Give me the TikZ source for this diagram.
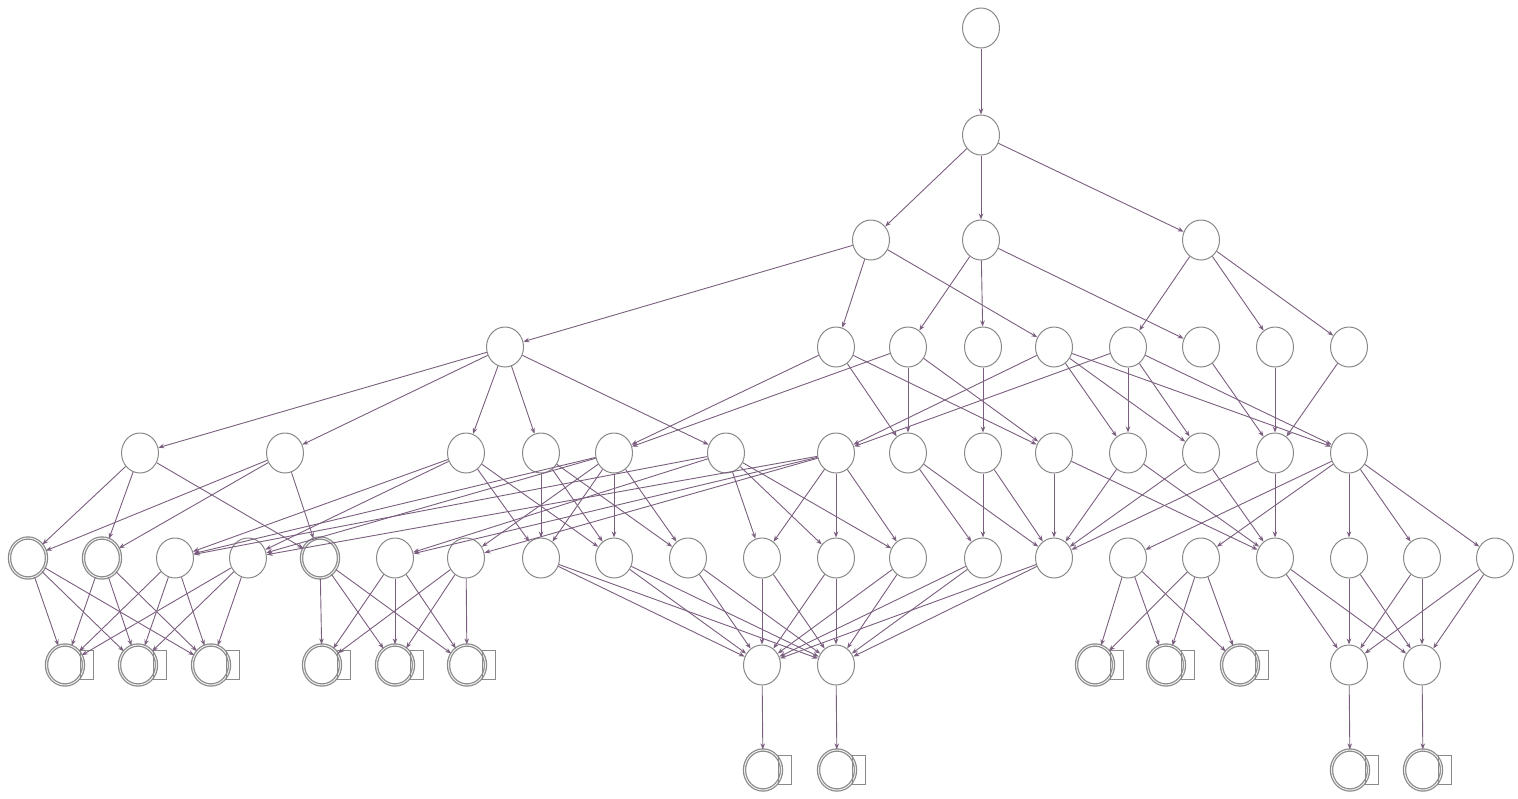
\documentclass[tikz,border=0pt]{standalone}
\usetikzlibrary{arrows.meta,shapes.geometric}
\definecolor{edgePurple}{HTML}{7A5E7E}
\definecolor{stateGray}{HTML}{8A8A8A}

\begin{document}
\begin{tikzpicture}[x=1pt,y=-1pt,
    st/.style={draw=stateGray,line width=1pt,fill=white,ellipse,minimum width=37pt,minimum height=40pt,inner sep=0pt},
    fin/.style={st,line width=1.2pt,double=white!85!stateGray,double distance=1pt},
    tr/.style={draw=edgePurple,line width=0.9pt,-{Stealth[length=6pt,width=4.5pt]}},
    loopbox/.style={draw=stateGray,line width=1pt}]
    \useasboundingbox (0,0) rectangle (1518,798);
    % rows 0-3
    \node[st] (a) at (981,28) {};
    \node[st] (b) at (981,135) {};
    \node[st] (c1) at (871,240) {};
    \node[st] (c2) at (981,240) {};
    \node[st] (c3) at (1201,240) {};
    \node[st] (d1) at (505,347) {};
    \node[st] (d2) at (836,347) {};
    \node[st] (d3) at (908,347) {};
    \node[st] (d4) at (983,347) {};
    \node[st] (d5) at (1054,347) {};
    \node[st] (d6) at (1128,347) {};
    \node[st] (d7) at (1201,347) {};
    \node[st] (d8) at (1275,347) {};
    \node[st] (d9) at (1349,347) {};
    % row 4
    \node[st] (e1) at (140,453) {};
    \node[st] (e2) at (285,453) {};
    \node[st] (e3) at (466,453) {};
    \node[st] (e4) at (541,453) {};
    \node[st] (e5) at (614,453) {};
    \node[st] (e6) at (726,453) {};
    \node[st] (e7) at (836,453) {};
    \node[st] (e8) at (908,453) {};
    \node[st] (e9) at (983,453) {};
    \node[st] (e10) at (1054,453) {};
    \node[st] (e11) at (1128,453) {};
    \node[st] (e12) at (1201,453) {};
    \node[st] (e13) at (1275,453) {};
    \node[st] (e14) at (1349,453) {};
    % row 5
    \node[fin] (f1) at (28,558) {};
    \node[fin] (f2) at (102,558) {};
    \node[st] (f3) at (175,558) {};
    \node[st] (f4) at (248,558) {};
    \node[fin] (f5) at (320,558) {};
    \node[st] (f6) at (395,558) {};
    \node[st] (f7) at (466,558) {};
    \node[st] (f8) at (541,558) {};
    \node[st] (f9) at (614,558) {};
    \node[st] (f10) at (688,558) {};
    \node[st] (f11) at (762,558) {};
    \node[st] (f12) at (836,558) {};
    \node[st] (f13) at (908,558) {};
    \node[st] (f14) at (983,558) {};
    \node[st] (f15) at (1054,558) {};
    \node[st] (f16) at (1128,558) {};
    \node[st] (f17) at (1201,558) {};
    \node[st] (f18) at (1275,558) {};
    \node[st] (f19) at (1349,558) {};
    \node[st] (f20) at (1422,558) {};
    \node[st] (f21) at (1495,558) {};
    % row 6
    \node[fin] (g1) at (65,665) {};
    \node[fin] (g2) at (138,665) {};
    \node[fin] (g3) at (211,665) {};
    \node[fin] (g4) at (322,665) {};
    \node[fin] (g5) at (395,665) {};
    \node[fin] (g6) at (467,665) {};
    \node[st] (g7) at (762,665) {};
    \node[st] (g8) at (836,665) {};
    \node[fin] (g9) at (1095,665) {};
    \node[fin] (g10) at (1166,665) {};
    \node[fin] (g11) at (1240,665) {};
    \node[st] (g12) at (1349,665) {};
    \node[st] (g13) at (1422,665) {};
    % row 7
    \node[fin] (h1) at (763,770) {};
    \node[fin] (h2) at (837,770) {};
    \node[fin] (h3) at (1350,770) {};
    \node[fin] (h4) at (1423,770) {};

    % self loops
    \draw[loopbox] (g1.east) ++(-4,-15) rectangle ++(13,29);
    \draw[loopbox] (g2.east) ++(-4,-15) rectangle ++(13,29);
    \draw[loopbox] (g3.east) ++(-4,-15) rectangle ++(13,29);
    \draw[loopbox] (g4.east) ++(-4,-15) rectangle ++(13,29);
    \draw[loopbox] (g5.east) ++(-4,-15) rectangle ++(13,29);
    \draw[loopbox] (g6.east) ++(-4,-15) rectangle ++(13,29);
    \draw[loopbox] (g9.east) ++(-4,-15) rectangle ++(13,29);
    \draw[loopbox] (g10.east) ++(-4,-15) rectangle ++(13,29);
    \draw[loopbox] (g11.east) ++(-4,-15) rectangle ++(13,29);
    \draw[loopbox] (h1.east) ++(-4,-15) rectangle ++(13,29);
    \draw[loopbox] (h2.east) ++(-4,-15) rectangle ++(13,29);
    \draw[loopbox] (h3.east) ++(-4,-15) rectangle ++(13,29);
    \draw[loopbox] (h4.east) ++(-4,-15) rectangle ++(13,29);

    % transitions, top part
    \draw[tr] (a)--(b);
    \draw[tr] (b)--(c1); \draw[tr] (b)--(c2); \draw[tr] (b)--(c3);
    \draw[tr] (c1)--(d1); \draw[tr] (c1)--(d2); \draw[tr] (c1)--(d5);
    \draw[tr] (c2)--(d3); \draw[tr] (c2)--(d4); \draw[tr] (c2)--(d7);
    \draw[tr] (c3)--(d6); \draw[tr] (c3)--(d8); \draw[tr] (c3)--(d9);
    % row 3 to row 4
    \draw[tr] (d1)--(e1); \draw[tr] (d1)--(e2); \draw[tr] (d1)--(e3); \draw[tr] (d1)--(e4); \draw[tr] (d1)--(e6);
    \draw[tr] (d2)--(e5); \draw[tr] (d2)--(e8); \draw[tr] (d2)--(e10);
    \draw[tr] (d3)--(e5); \draw[tr] (d3)--(e8); \draw[tr] (d3)--(e10);
    \draw[tr] (d4)--(e9);
    \draw[tr] (d5)--(e7); \draw[tr] (d5)--(e11); \draw[tr] (d5)--(e12); \draw[tr] (d5)--(e14);
    \draw[tr] (d6)--(e7); \draw[tr] (d6)--(e11); \draw[tr] (d6)--(e12); \draw[tr] (d6)--(e14);
    \draw[tr] (d7)--(e13); \draw[tr] (d8)--(e13); \draw[tr] (d9)--(e13);
    % row 4 to row 5
    \draw[tr] (e1)--(f1); \draw[tr] (e1)--(f2); \draw[tr] (e1)--(f5);
    \draw[tr] (e2)--(f1); \draw[tr] (e2)--(f2); \draw[tr] (e2)--(f5);
    \draw[tr] (e3)--(f3); \draw[tr] (e3)--(f4); \draw[tr] (e3)--(f8); \draw[tr] (e3)--(f9);
    \draw[tr] (e4)--(f8); \draw[tr] (e4)--(f9); \draw[tr] (e4)--(f10);
    \draw[tr] (e5)--(f3); \draw[tr] (e5)--(f4); \draw[tr] (e5)--(f7);
    \draw[tr] (e5)--(f8); \draw[tr] (e5)--(f9); \draw[tr] (e5)--(f10);
    \draw[tr] (e6)--(f3); \draw[tr] (e6)--(f6);
    \draw[tr] (e6)--(f11); \draw[tr] (e6)--(f12); \draw[tr] (e6)--(f13);
    \draw[tr] (e7)--(f4); \draw[tr] (e7)--(f6); \draw[tr] (e7)--(f7);
    \draw[tr] (e7)--(f11); \draw[tr] (e7)--(f12); \draw[tr] (e7)--(f13);
    \draw[tr] (e8)--(f14); \draw[tr] (e8)--(f15);
    \draw[tr] (e9)--(f14); \draw[tr] (e9)--(f15);
    \draw[tr] (e10)--(f15); \draw[tr] (e10)--(f18);
    \draw[tr] (e11)--(f15); \draw[tr] (e11)--(f18);
    \draw[tr] (e12)--(f15); \draw[tr] (e12)--(f18);
    \draw[tr] (e13)--(f15); \draw[tr] (e13)--(f18);
    \draw[tr] (e14)--(f16); \draw[tr] (e14)--(f17);
    \draw[tr] (e14)--(f19); \draw[tr] (e14)--(f20); \draw[tr] (e14)--(f21);
    % row 5 to row 6
    \draw[tr] (f1)--(g1); \draw[tr] (f1)--(g2); \draw[tr] (f1)--(g3);
    \draw[tr] (f2)--(g1); \draw[tr] (f2)--(g2); \draw[tr] (f2)--(g3);
    \draw[tr] (f3)--(g1); \draw[tr] (f3)--(g2); \draw[tr] (f3)--(g3);
    \draw[tr] (f4)--(g1); \draw[tr] (f4)--(g2); \draw[tr] (f4)--(g3);
    \draw[tr] (f5)--(g4); \draw[tr] (f5)--(g5); \draw[tr] (f5)--(g6);
    \draw[tr] (f6)--(g4); \draw[tr] (f6)--(g5); \draw[tr] (f6)--(g6);
    \draw[tr] (f7)--(g4); \draw[tr] (f7)--(g5); \draw[tr] (f7)--(g6);
    \draw[tr] (f8)--(g7); \draw[tr] (f8)--(g8);
    \draw[tr] (f9)--(g7); \draw[tr] (f9)--(g8);
    \draw[tr] (f10)--(g7); \draw[tr] (f10)--(g8);
    \draw[tr] (f11)--(g7); \draw[tr] (f11)--(g8);
    \draw[tr] (f12)--(g7); \draw[tr] (f12)--(g8);
    \draw[tr] (f13)--(g7); \draw[tr] (f13)--(g8);
    \draw[tr] (f14)--(g7); \draw[tr] (f14)--(g8);
    \draw[tr] (f15)--(g7); \draw[tr] (f15)--(g8);
    \draw[tr] (f16)--(g9); \draw[tr] (f16)--(g10); \draw[tr] (f16)--(g11);
    \draw[tr] (f17)--(g9); \draw[tr] (f17)--(g10); \draw[tr] (f17)--(g11);
    \draw[tr] (f18)--(g12); \draw[tr] (f18)--(g13);
    \draw[tr] (f19)--(g12); \draw[tr] (f19)--(g13);
    \draw[tr] (f20)--(g12); \draw[tr] (f20)--(g13);
    \draw[tr] (f21)--(g12); \draw[tr] (f21)--(g13);
    % row 6 to row 7
    \draw[tr] (g7)--(h1); \draw[tr] (g8)--(h2);
    \draw[tr] (g12)--(h3); \draw[tr] (g13)--(h4);
\end{tikzpicture}
\end{document}
